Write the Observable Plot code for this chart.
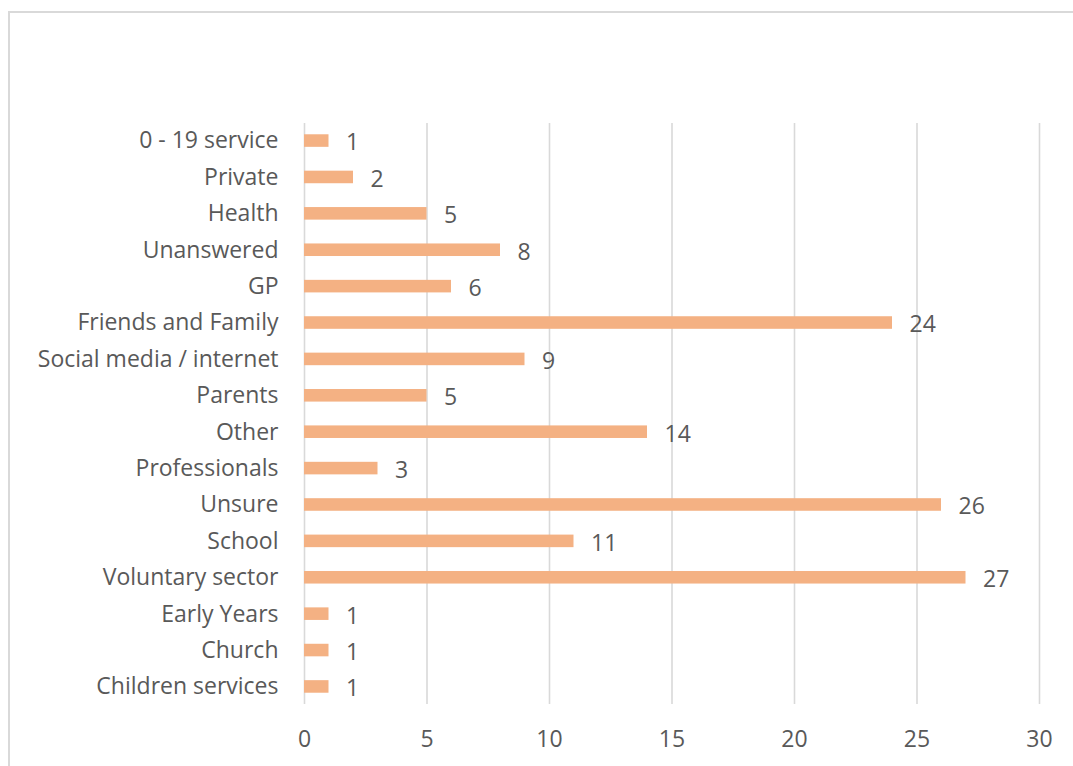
<!DOCTYPE html>
<html>
<head>
<meta charset="utf-8">
<script src="https://cdn.jsdelivr.net/npm/d3@7"></script>
<script src="https://cdn.jsdelivr.net/npm/@observablehq/plot@0.6"></script>
<style>
  html, body { margin: 0; padding: 0; background: #fff; overflow: hidden; }
  #wrap { position: relative; width: 1073px; height: 766px; }
  #frame { position: absolute; left: 8px; top: 11px; width: 1100px; height: 800px; border: 2px solid #d9d9d9; box-sizing: border-box; }
  #chart { position: absolute; left: 0; top: 0; }
</style>
</head>
<body>
<div id="wrap"><div id="frame"></div><div id="chart"></div></div>
<script>
const categories = ["0 - 19 service", "Private", "Health", "Unanswered", "GP", "Friends and Family",
  "Social media / internet", "Parents", "Other", "Professionals", "Unsure", "School",
  "Voluntary sector", "Early Years", "Church", "Children services"];
const values = [1, 2, 5, 8, 6, 24, 9, 5, 14, 3, 26, 11, 27, 1, 1, 1];
const xTicks = [0, 5, 10, 15, 20, 25, 30];

const data = categories.map((c, i) => ({category: c, value: values[i]}));

const plot = Plot.plot({
  width: 1073,
  height: 766,
  marginLeft: 304,
  marginRight: 34,
  marginTop: 123,
  marginBottom: 62,
  style: {fontFamily: "'Open Sans', sans-serif", fontSize: "23px", color: "#595959", background: "transparent"},
  x: {domain: [0, 30], ticks: xTicks, tickSize: 0, tickPadding: 26, label: null},
  y: {domain: categories, paddingInner: 0.655, paddingOuter: 0.31, round: false, tickSize: 0, tickPadding: 26, label: null},
  marks: [
    Plot.ruleX(xTicks, {stroke: "#d9d9d9", strokeWidth: 1.6}),
    Plot.barX(data, {x: "value", y: "category", fill: "#f4b183"}),
    Plot.text(data, {x: "value", y: "category", text: d => String(d.value), textAnchor: "start", dx: 17, dy: 2, fill: "#595959", fontSize: 23})
  ]
});
document.getElementById("chart").appendChild(plot);
</script>
</body>
</html>
